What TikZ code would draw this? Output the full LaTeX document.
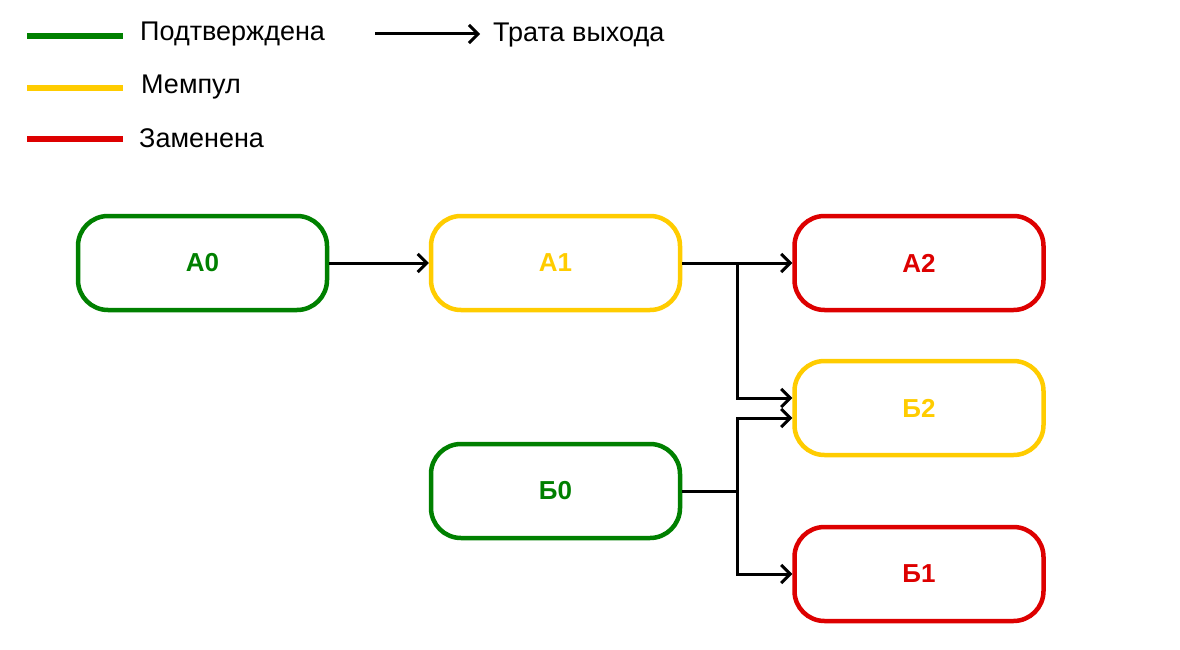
\documentclass[tikz,border=0pt]{standalone}
\usepackage{fontspec}
\setmainfont{Liberation Sans}
\usetikzlibrary{positioning,arrows.meta}

\definecolor{confgreen}{RGB}{0,128,0}
\definecolor{poolyellow}{RGB}{255,204,0}
\definecolor{replred}{RGB}{221,0,0}

\begin{document}
\begin{tikzpicture}[x=1pt,y=-1pt,on grid,
   tx/.style={draw=#1,text=#1,rounded corners=30pt,line width=4.5pt,minimum width=249pt,minimum height=94pt,font=\fontsize{26}{30}\selectfont\bfseries},
   spend/.style={-{Straight Barb[length=9pt,width=18pt,line width=3pt]},line width=3pt},
   keyline/.style={draw=#1,line width=6pt},
   keytext/.style={anchor=base west,inner sep=0pt,font=\fontsize{27}{32}\selectfont}]
   \useasboundingbox (0,0) rectangle (1180,650);
   % legend
   \coordinate (kconf) at (27,36);
   \coordinate (kpool) at (27,88);
   \coordinate (krepl) at (27,139);
   \coordinate (kspend) at (375,34);
   \draw[keyline=confgreen] (kconf) -- ++(96,0);
   \draw[keyline=poolyellow] (kpool) -- ++(96,0);
   \draw[keyline=replred] (krepl) -- ++(96,0);
   \draw[spend] (kspend) -- ++(105,0);
   \node[keytext] (lconf) at (140,41) {Подтверждена};
   \node[keytext] (lpool) at (141,94) {Мемпул};
   \node[keytext] (lrepl) at (139,147) {Заменена};
   \node[keytext] (lspend) at (493,42) {Трата выхода};
   % transactions
   \node[tx=confgreen] (a0) at (202.5,263) {А0};
   \node[tx=poolyellow] (a1) [right=353pt of a0] {А1};
   \node[tx=replred] (a2) [right=363.5pt of a1] {А2};
   \node[tx=poolyellow] (b2) [below=145pt of a2] {Б2};
   \node[tx=confgreen] (b0) [below=228pt of a1] {Б0};
   \node[tx=replred] (b1) [below=166pt of b2] {Б1};
   \coordinate[right=55pt of a1.east] (ja);
   \coordinate[right=55pt of b0.east] (jb);
   \coordinate[above=10pt of b2.west] (b2top);
   \coordinate[below=10pt of b2.west] (b2bot);
   \draw[spend] (a0) -- (a1);
   \draw[spend] (a1) -- (a2);
   \draw[spend] (ja) |- (b2top);
   \draw[line width=3pt] (b0) -- (jb);
   \draw[spend] (jb) |- (b2bot);
   \draw[spend] (jb) |- (b1);
\end{tikzpicture}
\end{document}
